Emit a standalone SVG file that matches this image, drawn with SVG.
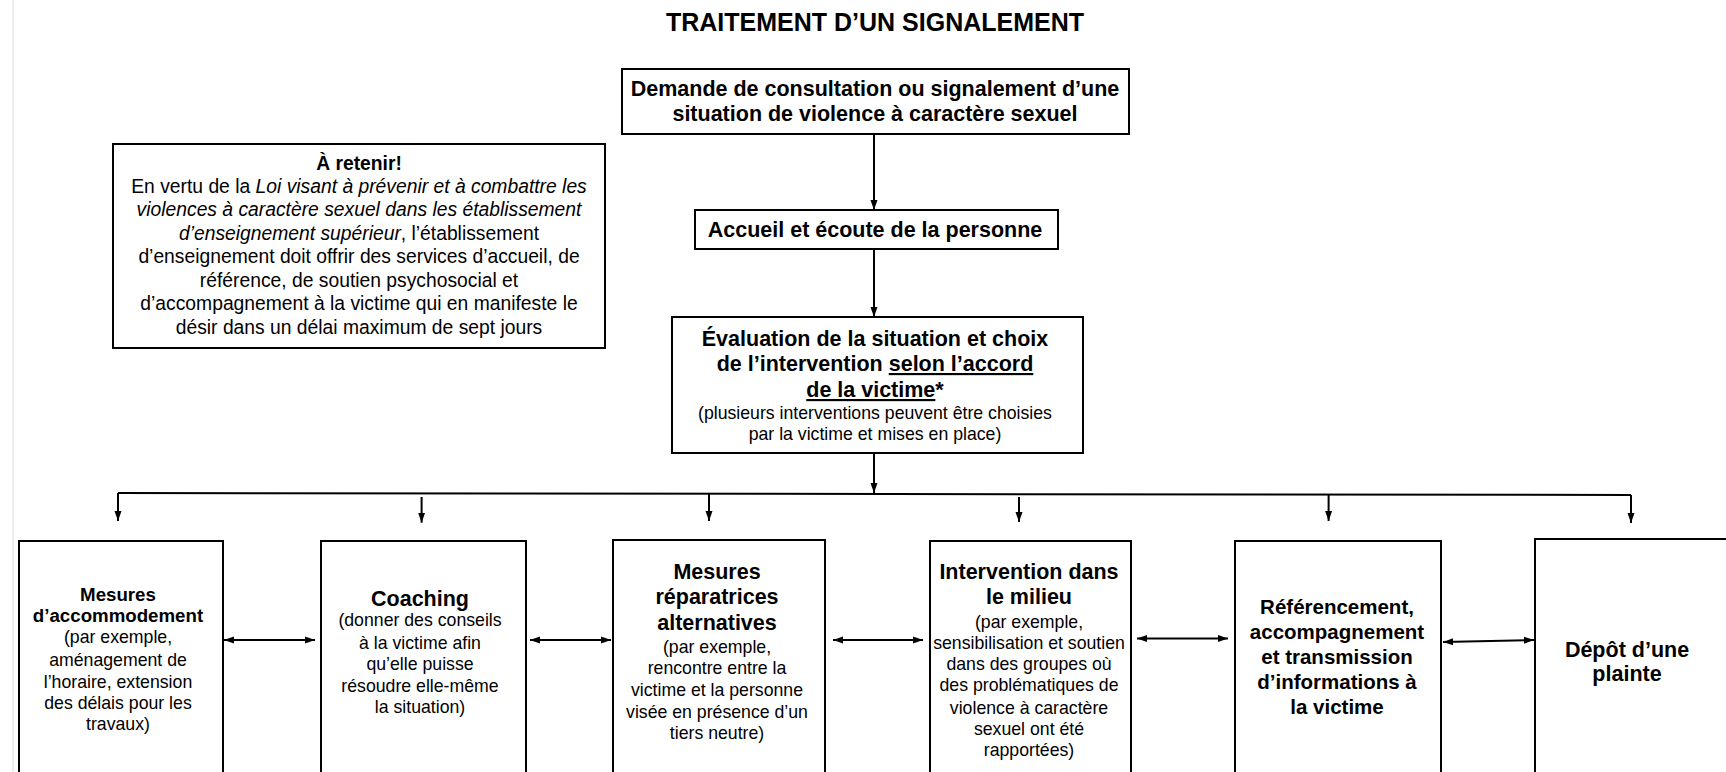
<svg xmlns="http://www.w3.org/2000/svg" width="1726" height="772" viewBox="0 0 1726 772">
<style>
  text { font-family: "Liberation Sans", Arial, Helvetica, sans-serif; fill: #000; text-anchor: middle; }
  .b { font-weight: bold; }
  .title { font-size: 25px; font-weight: bold; }
  .h { font-size: 21.5px; font-weight: bold; }
  .hm { font-size: 20.5px; font-weight: bold; }
  .hs { font-size: 18.7px; font-weight: bold; }
  .r { font-size: 17.7px; }
  .note { font-size: 19.3px; }
  .box { fill: #fff; stroke: #000; stroke-width: 2; }
  .c { fill: none; stroke: #000; stroke-width: 2; }
  .u { text-decoration: underline; }
  .i { font-style: italic; }
</style>
<defs>
  <marker id="ah" markerUnits="userSpaceOnUse" markerWidth="10" markerHeight="8" refX="10" refY="4" orient="auto-start-reverse">
    <path d="M0,0.5 L10,4 L0,7.5 z" fill="#000"/>
  </marker>
</defs>
<rect width="1726" height="772" fill="#fff"/>
<line x1="13" y1="0" x2="13" y2="772" stroke="#dcdcdc" stroke-width="1"/>

<text class="title" x="875" y="31">TRAITEMENT D’UN SIGNALEMENT</text>

<g id="connectors">
  <line class="c" x1="874" y1="134" x2="874" y2="210" marker-end="url(#ah)"/>
  <line class="c" x1="874" y1="249" x2="874" y2="317" marker-end="url(#ah)"/>
  <line class="c" x1="874" y1="453" x2="874" y2="493" marker-end="url(#ah)"/>
  <line class="c" x1="118" y1="493" x2="1631" y2="495"/>
  <line class="c" x1="118" y1="493" x2="118" y2="521" marker-end="url(#ah)"/>
  <line class="c" x1="421.6" y1="497" x2="421.6" y2="522.7" marker-end="url(#ah)"/>
  <line class="c" x1="709" y1="494" x2="709" y2="521" marker-end="url(#ah)"/>
  <line class="c" x1="1019" y1="497" x2="1019" y2="522" marker-end="url(#ah)"/>
  <line class="c" x1="1328.6" y1="495" x2="1328.6" y2="521" marker-end="url(#ah)"/>
  <line class="c" x1="1631" y1="495" x2="1631" y2="523" marker-end="url(#ah)"/>
  <line class="c" x1="224" y1="640" x2="315" y2="640" marker-start="url(#ah)" marker-end="url(#ah)"/>
  <line class="c" x1="530" y1="640" x2="611" y2="640" marker-start="url(#ah)" marker-end="url(#ah)"/>
  <line class="c" x1="833" y1="640" x2="923" y2="640" marker-start="url(#ah)" marker-end="url(#ah)"/>
  <line class="c" x1="1137" y1="638.5" x2="1228" y2="638.5" marker-start="url(#ah)" marker-end="url(#ah)"/>
  <line class="c" x1="1443" y1="642" x2="1534" y2="640" marker-start="url(#ah)" marker-end="url(#ah)"/>
</g>

<g id="demande">
  <rect class="box" x="622" y="69" width="507" height="65"/>
  <text class="h" x="875" y="95.5">Demande de consultation ou signalement d’une</text>
  <text class="h" x="875" y="121">situation de violence à caractère sexuel</text>
</g>

<g id="accueil">
  <rect class="box" x="695" y="210" width="363" height="39"/>
  <text class="h" x="875" y="237">Accueil et écoute de la personne</text>
</g>

<g id="evaluation">
  <rect class="box" x="672" y="317" width="411" height="136"/>
  <text class="h" x="875" y="345.5">Évaluation de la situation et choix</text>
  <text class="h" x="875" y="371">de l’intervention <tspan class="u">selon l’accord</tspan></text>
  <text class="h" x="875" y="397"><tspan class="u">de la victime</tspan>*</text>
  <text class="r" x="875" y="418.5">(plusieurs interventions peuvent être choisies</text>
  <text class="r" x="875" y="439.5">par la victime et mises en place)</text>
</g>

<g id="retenir">
  <rect class="box" x="113" y="144" width="492" height="204"/>
  <text class="note b" x="359" y="170">À retenir!</text>
  <text class="note" x="359" y="192.5">En vertu de la <tspan class="i">Loi visant à prévenir et à combattre les</tspan></text>
  <text class="note i" x="359" y="216">violences à caractère sexuel dans les établissement</text>
  <text class="note" x="359" y="239.5"><tspan class="i">d’enseignement supérieur</tspan>, l’établissement</text>
  <text class="note" x="359" y="263">d’enseignement doit offrir des services d’accueil, de</text>
  <text class="note" x="359" y="286.5">référence, de soutien psychosocial et</text>
  <text class="note" x="359" y="310">d’accompagnement à la victime qui en manifeste le</text>
  <text class="note" x="359" y="333.5">désir dans un délai maximum de sept jours</text>
</g>

<g id="accommodement">
  <rect class="box" x="19" y="541" width="204" height="260"/>
  <text class="hs" x="118" y="600.7">Mesures</text>
  <text class="hs" x="118" y="621.7">d’accommodement</text>
  <text class="r" x="118" y="643">(par exemple,</text>
  <text class="r" x="118" y="666">aménagement de</text>
  <text class="r" x="118" y="688">l’horaire, extension</text>
  <text class="r" x="118" y="709">des délais pour les</text>
  <text class="r" x="118" y="730.4">travaux)</text>
</g>

<g id="coaching">
  <rect class="box" x="321" y="541" width="205" height="260"/>
  <text class="h" x="420" y="605.6">Coaching</text>
  <text class="r" x="420" y="626.4">(donner des conseils</text>
  <text class="r" x="420" y="649">à la victime afin</text>
  <text class="r" x="420" y="670.4">qu’elle puisse</text>
  <text class="r" x="420" y="691.7">résoudre elle-même</text>
  <text class="r" x="420" y="713">la situation)</text>
</g>

<g id="reparatrices">
  <rect class="box" x="613" y="540" width="212" height="261"/>
  <text class="h" x="717" y="578.5">Mesures</text>
  <text class="h" x="717" y="604">réparatrices</text>
  <text class="h" x="717" y="629.5">alternatives</text>
  <text class="r" x="717" y="653">(par exemple,</text>
  <text class="r" x="717" y="673.7">rencontre entre la</text>
  <text class="r" x="717" y="696.4">victime et la personne</text>
  <text class="r" x="717" y="718">visée en présence d’un</text>
  <text class="r" x="717" y="739">tiers neutre)</text>
</g>

<g id="milieu">
  <rect class="box" x="930" y="541" width="201" height="260"/>
  <text class="h" x="1029" y="578.6">Intervention dans</text>
  <text class="h" x="1029" y="604.3">le milieu</text>
  <text class="r" x="1029" y="628">(par exemple,</text>
  <text class="r" x="1029" y="648.7">sensibilisation et soutien</text>
  <text class="r" x="1029" y="669.7">dans des groupes où</text>
  <text class="r" x="1029" y="691.4">des problématiques de</text>
  <text class="r" x="1029" y="714">violence à caractère</text>
  <text class="r" x="1029" y="735.4">sexuel ont été</text>
  <text class="r" x="1029" y="756.4">rapportées)</text>
</g>

<g id="referencement">
  <rect class="box" x="1235" y="541" width="206" height="260"/>
  <text class="hm" x="1337" y="614">Référencement,</text>
  <text class="hm" x="1337" y="639">accompagnement</text>
  <text class="hm" x="1337" y="663.5">et transmission</text>
  <text class="hm" x="1337" y="688.5">d’informations à</text>
  <text class="hm" x="1337" y="713.5">la victime</text>
</g>

<g id="plainte">
  <rect class="box" x="1535" y="539" width="220" height="262"/>
  <text class="h" x="1627" y="656.5">Dépôt d’une</text>
  <text class="h" x="1627" y="681">plainte</text>
</g>
</svg>
